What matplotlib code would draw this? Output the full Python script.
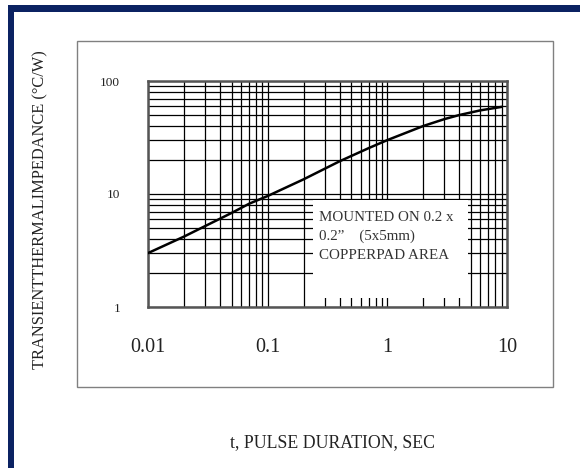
import numpy as np
import matplotlib as mpl
mpl.use('Agg')
import matplotlib.pyplot as plt
from matplotlib.patches import Rectangle

# curve
pulse_t = [0.01, 0.02, 0.03, 0.05, 0.07, 0.1, 0.2, 0.4, 0.7, 1, 2, 3, 4, 6, 9]
z_th = [3.0, 4.2, 5.2, 6.8, 8.2, 9.6, 13.5, 19.5, 25.5, 30, 40, 46, 50, 55, 59]

x_ticks = [0.01, 0.1, 1, 10]
x_labels = ["0.01", "0.1", "1", "10"]
y_ticks = [1, 10, 100]
y_labels = ["1", "10", "100"]

note = "MOUNTED ON 0.2 x\n0.2\u201d    (5x5mm)\nCOPPERPAD AREA"

plt.rcParams['font.family'] = ['Liberation Serif', 'DejaVu Serif']

fig = plt.figure(figsize=(5.8, 4.68), dpi=100)
fig.patch.set_facecolor('white')

navy = '#0b2262'
# navy frame, top and left
fig.add_artist(Rectangle((8/580, 0), 6/580, 1 - 5/468, transform=fig.transFigure,
                         facecolor=navy, edgecolor='none'))
fig.add_artist(Rectangle((8/580, 1 - 12/468), 1, 7/468, transform=fig.transFigure,
                         facecolor=navy, edgecolor='none'))
# grey outer box
fig.add_artist(Rectangle((77/580, 81/468), 476/580, 346/468, transform=fig.transFigure,
                         facecolor='none', edgecolor='#808080', lw=1.0))

ax = fig.add_axes([148/580, 161/468, 359/580, 226/468])
ax.set_xscale('log')
ax.set_yscale('log')
ax.set_xlim(0.01, 10)
ax.set_ylim(1, 100)

ax.add_patch(Rectangle((0.24, 1.2), 4.7 - 0.24, 8.8 - 1.2, facecolor='white',
                       edgecolor='none', zorder=2))
ax.text(0.27, 7.1, note, fontsize=10.8, va='top', ha='left', color='#333333',
        linespacing=1.6, zorder=3)

ax.plot(pulse_t, z_th, color='black', lw=1.8, zorder=4)

ax.set_xticks(x_ticks)
ax.set_xticklabels(x_labels, fontsize=14.5)
ax.set_yticks(y_ticks)
ax.set_yticklabels(y_labels, fontsize=9.5)
ax.xaxis.set_minor_locator(mpl.ticker.LogLocator(subs=np.arange(2, 10)))
ax.yaxis.set_minor_locator(mpl.ticker.LogLocator(subs=np.arange(2, 10)))
ax.xaxis.set_minor_formatter(mpl.ticker.NullFormatter())
ax.yaxis.set_minor_formatter(mpl.ticker.NullFormatter())
ax.grid(True, which='both', color='black', lw=0.9)
ax.set_axisbelow(True)
ax.tick_params(which='both', length=0)
ax.tick_params(axis='x', pad=22, colors='#222222')
ax.tick_params(axis='y', pad=20, colors='#222222')
for s in ax.spines.values():
    s.set_color('#555555')
    s.set_linewidth(1.8)

fig.text(40/580, 1 - 210/468, "TRANSIENTTHERMALIMPEDANCE (\u00b0C/W)", rotation=90,
         fontsize=11.8, ha='center', va='center', color='#222222')
fig.text(332/580, 1 - 443/468, "t, PULSE DURATION, SEC", fontsize=12.8,
         ha='center', va='center', color='#222222')

plt.savefig("out.png", dpi=100)
